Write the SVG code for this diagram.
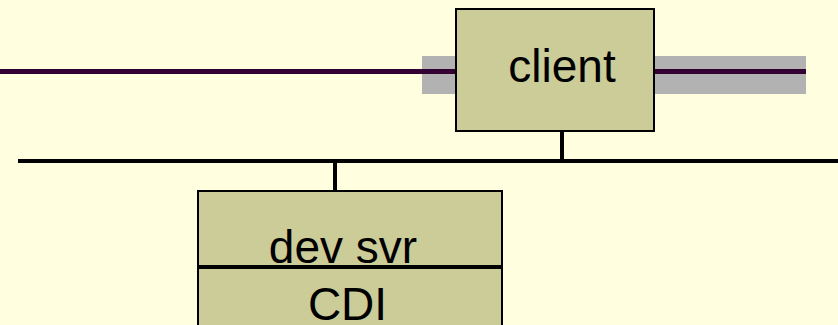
<svg xmlns="http://www.w3.org/2000/svg" width="838" height="325" viewBox="0 0 838 325">
  <style>
    .box { fill: #cccc99; stroke: #000000; stroke-width: 2; }
    .lbl { font-family: "Liberation Sans", Arial, sans-serif; font-size: 46px; fill: #000000; text-anchor: middle; }
    .wire { stroke: #000000; stroke-width: 4; fill: none; }
    .link { stroke: #330033; stroke-width: 5; fill: none; }
  </style>
  <rect x="0" y="0" width="838" height="325" fill="#ffffe0"/>
  <g id="connectors">
    <rect x="422" y="56" width="384" height="38" fill="#b2b2b2"/>
    <line class="link" x1="0" y1="71.5" x2="806" y2="71.5"/>
    <line class="wire" x1="18" y1="161" x2="838" y2="161"/>
    <line class="wire" x1="562" y1="131" x2="562" y2="161"/>
    <line class="wire" x1="335" y1="161" x2="335" y2="191"/>
  </g>
  <g id="client">
    <rect class="box" x="456" y="9" width="198" height="122"/>
    <text class="lbl" x="562" y="82">client</text>
  </g>
  <g id="dev-svr">
    <rect class="box" x="198" y="191" width="304" height="150"/>
    <line class="wire" x1="198" y1="267" x2="502" y2="267" stroke-width="3"/>
    <text class="lbl" x="343" y="263" font-size="48">dev svr</text>
    <text class="lbl" x="347.5" y="320">CDI</text>
  </g>
</svg>
